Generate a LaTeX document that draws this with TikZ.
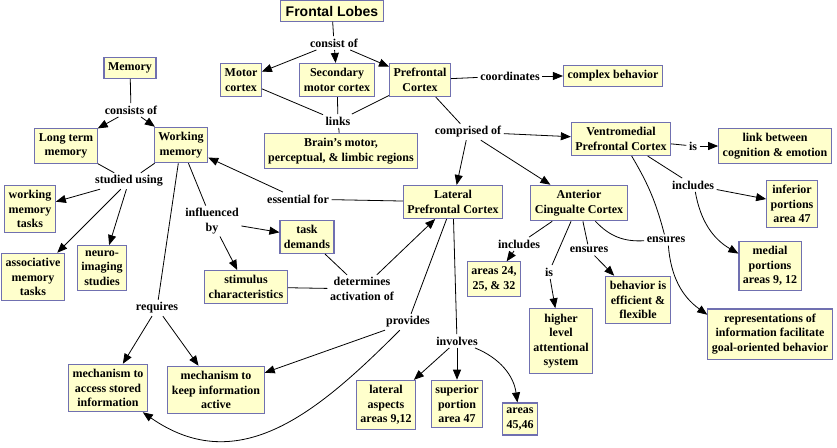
\documentclass[tikz,border=0pt]{standalone}
\usepackage{fontspec}
\setmainfont{Liberation Serif}
\newfontfamily\headfont{Liberation Sans}
\usetikzlibrary{arrows.meta}
\definecolor{cfill}{RGB}{255,255,204}
\definecolor{cedge}{RGB}{112,112,176}

\begin{document}
\begin{tikzpicture}[x=1pt,y=1pt,
	font=\fontsize{12}{14.5}\selectfont\bfseries,
	concept/.style={draw=cedge,fill=cfill,line width=1.1pt,align=center,inner xsep=4pt,inner ysep=5pt},
	phrase/.style={align=center,inner sep=2.5pt},
	link/.style={line width=0.8pt},
	arr/.style={link,-{Triangle[length=10pt,width=8pt]}}
	]
	\useasboundingbox (0,0) rectangle (837,-447);
	
	\node[concept,font=\fontsize{14}{16}\selectfont\headfont\bfseries,inner xsep=5pt] (fl) at (332,-11) {Frontal Lobes};
	\node[phrase] (cof) at (334,-43) {consist of};
	\node[concept] (mc) at (241,-80) {Motor\\cortex};
	\node[concept] (smc) at (337,-80) {Secondary\\motor cortex};
	\node[concept] (pfc) at (420,-80) {Prefrontal\\Cortex};
	\node[phrase] (coord) at (510,-76) {coordinates};
	\node[concept] (cb) at (613,-76) {complex behavior};
	\node[phrase] (lnk) at (338,-121) {links};
	\node[concept] (brain) at (341,-151) {Brain's motor,\\perceptual, \& limbic regions};
	
	\node[concept] (mem) at (130,-68) {Memory};
	\node[phrase] (csof) at (131,-110) {consists of};
	\node[concept] (ltm) at (66,-146) {Long term\\memory};
	\node[concept] (wm) at (181,-145) {Working\\memory};
	\node[phrase] (stu) at (129,-181) {studied using};
	\node[concept] (wmt) at (30,-209) {working\\memory\\tasks};
	\node[concept] (amt) at (33,-277) {associative\\memory\\tasks};
	\node[concept] (neuro) at (102,-268) {neuro-\\imaging\\studies};
	\node[phrase] (ess) at (298,-199) {essential for};
	\node[phrase] (infl) at (212,-221) {influenced\\by};
	\node[concept] (td) at (307,-237) {task\\demands};
	\node[concept] (stim) at (246,-287) {stimulus\\characteristics};
	\node[phrase] (det) at (362,-289) {determines\\activation of};
	\node[phrase] (req) at (157,-308) {requires};
	\node[concept] (macc) at (108,-388) {mechanism to\\access stored\\information};
	\node[concept] (mkeep) at (216,-390) {mechanism to\\keep information\\active};
	
	\node[phrase] (comp) at (468,-132) {comprised of};
	\node[concept] (lpfc) at (453,-202) {Lateral\\Prefrontal Cortex};
	\node[concept] (vm) at (621,-139) {Ventromedial\\Prefrontal Cortex};
	\node[phrase] (is1) at (693,-146) {is};
	\node[concept] (lbce) at (775,-146) {link between\\cognition \& emotion};
	\node[phrase] (inc1) at (693,-185) {includes};
	\node[concept] (inf) at (792,-204) {inferior\\portions\\area 47};
	\node[concept] (med) at (770,-266) {medial\\portions\\areas 9, 12};
	\node[phrase] (ens1) at (666,-240) {ensures};
	\node[concept] (rep) at (770,-334) {representations of\\information facilitate\\goal-oriented behavior};
	\node[concept] (acc) at (579,-203) {Anterior\\Cingualte Cortex};
	\node[phrase] (inc2) at (519,-244) {includes};
	\node[concept] (a24) at (494,-279) {areas 24,\\25, \& 32};
	\node[phrase] (is2) at (549,-272) {is};
	\node[concept] (hla) at (561,-341) {higher\\level\\attentional\\system};
	\node[phrase] (ens2) at (589,-250) {ensures};
	\node[concept] (beh) at (638,-300) {behavior is\\efficient \&\\flexible};
	\node[phrase] (prov) at (408,-322) {provides};
	\node[phrase] (inv) at (457,-341) {involves};
	\node[concept] (lat) at (386,-405) {lateral\\aspects\\areas 9,12};
	\node[concept] (sup) at (457,-404) {superior\\portion\\area 47};
	\node[concept] (a45) at (520,-419) {areas\\45,46};
	
	\draw[link] (fl) -- (cof);
	\foreach \t in {mc,smc,pfc} \draw[arr] (cof) -- (\t);
	\foreach \s in {mc,smc,pfc} \draw[link] (\s) -- (lnk);
	\draw[link] (lnk) -- (brain);
	\draw[link] (pfc) -- (coord);
	\draw[arr] (coord) -- (cb);
	\draw[link] (pfc) -- (comp);
	\foreach \t in {vm,lpfc,acc} \draw[arr] (comp) -- (\t);
	
	\draw[link] (vm) -- (is1);
	\draw[arr] (is1) -- (lbce);
	\draw[link] (vm) -- (inc1);
	\draw[arr] (inc1) -- (inf);
	\draw[arr] (inc1) to[bend right=25] (med);
	\draw[link] (vm) to[bend left=8] (ens1);
	\draw[link] (acc) to[bend right=25] (ens1);
	\draw[arr] (ens1) to[bend right=25] (rep);
	\draw[link] (acc) -- (inc2);
	\draw[arr] (inc2) -- (a24);
	\draw[link] (acc) -- (is2);
	\draw[arr] (is2) -- (hla);
	\draw[link] (acc) -- (ens2);
	\draw[arr] (ens2) -- (beh);
	
	\draw[link] (mem) -- (csof);
	\foreach \t in {ltm,wm} \draw[arr] (csof) -- (\t);
	\foreach \s in {ltm,wm} \draw[link] (\s) -- (stu);
	\foreach \t in {wmt,amt,neuro} \draw[arr] (stu) -- (\t);
	\draw[link] (lpfc) -- (ess);
	\draw[arr] (ess) -- (wm);
	\draw[link] (wm) -- (infl);
	\foreach \t in {td,stim} \draw[arr] (infl) -- (\t);
	\foreach \s in {td,stim} \draw[link] (\s) -- (det);
	\draw[arr] (det) -- (lpfc);
	\draw[link] (wm) -- (req);
	\foreach \t in {macc,mkeep} \draw[arr] (req) -- (\t);
	
	\draw[link] (lpfc) -- (prov);
	\draw[arr] (prov) -- (mkeep);
	\draw[arr] (prov) .. controls (320,-410) and (240,-480) .. (macc);
	\draw[link] (lpfc) -- (inv);
	\foreach \t in {lat,sup} \draw[arr] (inv) -- (\t);
	\draw[arr] (inv) to[bend left=30] (a45);
\end{tikzpicture}
\end{document}
